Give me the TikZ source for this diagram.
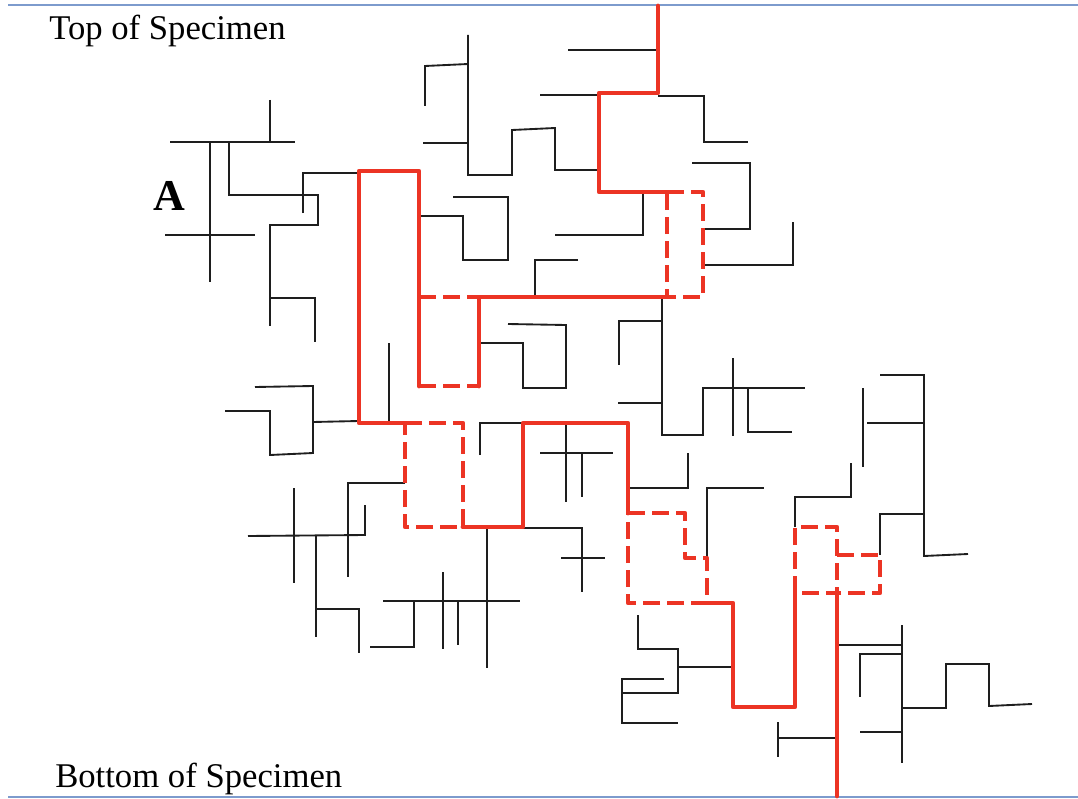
\documentclass[tikz,border=0pt]{standalone}
\usepackage{fontspec}
\setmainfont{Liberation Serif}
\definecolor{crackred}{RGB}{236,52,36}
\definecolor{edgeblue}{RGB}{125,155,205}
\definecolor{crackgray}{RGB}{30,30,30}
\tikzset{
  crack/.style={draw=crackgray, line width=1.4pt, line join=miter},
  mainpath/.style={draw=crackred, line width=3.6pt, line join=round, line cap=round},
  altpath/.style={draw=crackred, line width=3.6pt, line join=round, dash pattern=on 13pt off 5pt},
  edge/.style={draw=edgeblue, line width=1.6pt},
  lbl/.style={anchor=base west, inner sep=0pt, font=\fontsize{26}{30}\selectfont}
}
\begin{document}
\begin{tikzpicture}[x=0.75pt,y=-0.75pt]
\useasboundingbox (0,0) rectangle (1078,799);
% specimen edges
\coordinate (tl) at (8,5); \coordinate (tr) at (1078,5);
\coordinate (bl) at (8,797); \coordinate (br) at (1078,797);
\draw[edge] (tl) -- (tr);
\draw[edge] (bl) -- (br);
% labels
\node[lbl] (top) at (49,40) {Top of Specimen};
\node[lbl] (bottom) at (55,787) {Bottom of Specimen};
\node[anchor=base west, inner sep=0pt, font=\fontsize{33}{38}\selectfont\bfseries] (labelA) at (153,210) {A};
% black cracks
\draw[crack] (270,100)--(270,143);
\draw[crack] (170,142)--(295,142);
\draw[crack] (210,142)--(210,282);
\draw[crack] (165,235)--(255,235);
\draw[crack] (229,142)--(229,195)--(318,195)--(318,225)--(270,225)--(270,326);
\draw[crack] (270,298)--(315,298)--(315,342);
\draw[crack] (303,213)--(303,173)--(359,173);
\draw[crack] (468,35)--(468,175)--(512,175)--(512,130)--(555,128)--(555,170)--(599,170);
\draw[crack] (425,106)--(425,66)--(468,64);
\draw[crack] (423,143)--(468,143);
\draw[crack] (540,95)--(599,95);
\draw[crack] (568,50)--(658,50);
\draw[crack] (658,96)--(704,96)--(704,142)--(748,142);
\draw[crack] (692,163)--(750,163)--(750,229)--(703,229);
\draw[crack] (643,192)--(643,235)--(555,235);
\draw[crack] (703,265)--(793,265)--(793,222);
\draw[crack] (419,216)--(463,216)--(463,260)--(508,260)--(508,197)--(453,197);
\draw[crack] (578,260)--(535,260)--(535,297);
\draw[crack] (662,297)--(662,435)--(703,435)--(703,388)--(805,388);
\draw[crack] (662,321)--(619,321)--(619,365);
\draw[crack] (618,403)--(662,403);
\draw[crack] (733,358)--(733,436);
\draw[crack] (748,388)--(748,432)--(792,432);
\draw[crack] (508,324)--(566,325)--(566,388)--(523,388)--(523,343)--(479,343);
\draw[crack] (389,343)--(389,423);
\draw[crack] (255,387)--(313,386)--(313,453)--(270,455)--(270,411)--(225,411);
\draw[crack] (313,422)--(359,421);
\draw[crack] (405,483)--(348,483)--(348,577);
\draw[crack] (248,536)--(365,535)--(365,505);
\draw[crack] (294,488)--(294,583);
\draw[crack] (316,535)--(316,637);
\draw[crack] (316,609)--(359,609)--(359,653);
\draw[crack] (480,455)--(480,423)--(523,423);
\draw[crack] (566,423)--(566,502);
\draw[crack] (540,453)--(613,453);
\draw[crack] (582,453)--(582,497);
\draw[crack] (628,488)--(688,488)--(688,453);
\draw[crack] (707,558)--(707,488)--(764,488);
\draw[crack] (795,527)--(795,497)--(851,497)--(851,463);
\draw[crack] (880,375)--(924,375)--(924,556)--(968,554);
\draw[crack] (880,555)--(880,514)--(924,514);
\draw[crack] (867,423)--(924,423);
\draw[crack] (863,388)--(863,467);
\draw[crack] (523,528)--(582,528)--(582,592);
\draw[crack] (561,558)--(605,558);
\draw[crack] (487,527)--(487,668);
\draw[crack] (383,601)--(520,601);
\draw[crack] (414,601)--(414,647)--(370,647);
\draw[crack] (443,572)--(443,649);
\draw[crack] (458,601)--(458,645);
\draw[crack] (638,615)--(638,649)--(678,649)--(678,693)--(622,693);
\draw[crack] (678,667)--(733,667);
\draw[crack] (664,679)--(622,679)--(622,723)--(678,723);
\draw[crack] (778,722)--(778,757);
\draw[crack] (778,738)--(837,738);
\draw[crack] (837,645)--(902,645);
\draw[crack] (902,625)--(902,763);
\draw[crack] (902,654)--(860,654)--(860,697);
\draw[crack] (902,708)--(946,708)--(946,664)--(989,664)--(989,706)--(1032,704);
\draw[crack] (860,732)--(902,732);
% dashed alternative branches
\draw[altpath] (667,192)--(703,192)--(703,297)--(667,297)--cycle;
\draw[altpath] (419,297)--(479,297);
\draw[altpath] (419,386)--(479,386);
\draw[altpath] (405,423)--(463,423)--(463,527)--(405,527)--cycle;
\draw[altpath] (628,513)--(685,513)--(685,558)--(707,558)--(707,603)--(628,603)--cycle;
\draw[altpath] (795,593)--(795,527)--(837,527)--(837,593)--cycle;
\draw[altpath] (837,555)--(880,555)--(880,593)--(837,593);
% main fracture path
\draw[mainpath] (658,6)--(658,93)--(599,93)--(599,192)--(667,192);
\draw[mainpath] (667,297)--(479,297)--(479,386);
\draw[mainpath] (419,386)--(419,171)--(359,171)--(359,423)--(405,423);
\draw[mainpath] (463,527)--(523,527)--(523,423)--(628,423)--(628,513);
\draw[mainpath] (707,603)--(733,603)--(733,707)--(795,707)--(795,593);
\draw[mainpath] (837,593)--(837,796);
\end{tikzpicture}
\end{document}
